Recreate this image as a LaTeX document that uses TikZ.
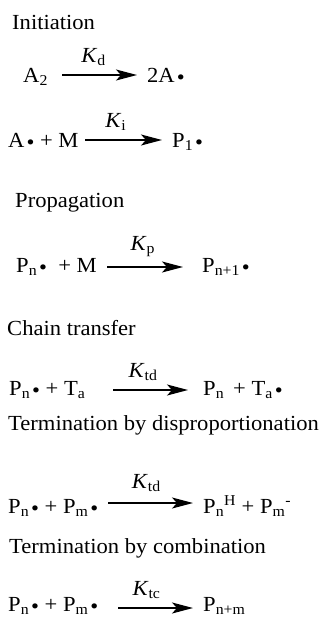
\documentclass[tikz,border=0pt]{standalone}
\usepackage{fontspec}
\setmainfont[FakeStretch=1.05]{Liberation Serif}
\usetikzlibrary{arrows.meta}
\usepackage{xcolor}

% radical dot
\newcommand{\rdot}{\kern2pt\raisebox{-0.13em}{•}}
\newcommand{\rk}[1]{\textit{K}\textsubscript{#1}}

\begin{document}
\begin{tikzpicture}[x=1pt, y=-1pt,
        txt/.style={anchor=base west, inner sep=0pt, font=\fontsize{21.5}{24}\selectfont},
        rxn/.style={-{Stealth[length=21pt, width=11pt, inset=5pt]}, line width=1.7pt},
        klab/.style={anchor=base, inner sep=0pt, yshift=13pt, font=\fontsize{21.5}{24}\selectfont}]
        \useasboundingbox (0,0) rectangle (320,619);

        % initiation
        \node (hinit) [txt] at (12,29) {Initiation};
        \node (a2) [txt] at (23,82) {A\textsubscript{2}};
        \node (twoa) [txt] at (147,82) {2A\rdot};
        \coordinate (s1) at (62,75);
        \coordinate (e1) at (137,75);
        \draw[rxn] (s1) -- node[klab, pos=.42] {\rk{d}} (e1);

        \node (am) [txt] at (8,147) {A\rdot\ + M};
        \node (p1) [txt] at (172,147) {P\textsubscript{1}\rdot};
        \coordinate (s2) at (85,140);
        \coordinate (e2) at (162,140);
        \draw[rxn] (s2) -- node[klab, pos=.4] {\rk{i}} (e2);

        % propagation
        \node (hprop) [txt] at (15,207) {Propagation};
        \node (pnm) [txt] at (16,272) {P\textsubscript{n}\rdot\ \ + M};
        \node (pn1) [txt] at (202,272) {P\textsubscript{n+1}\rdot};
        \coordinate (s3) at (107,267);
        \coordinate (e3) at (183,267);
        \draw[rxn] (s3) -- node[klab, pos=.47, yshift=4pt] {\rk{p}} (e3);

        % chain transfer
        \node (hchain) [txt] at (7,335) {Chain transfer};
        \node (pnta) [txt] at (9,395) {P\textsubscript{n}\rdot\ + T\textsubscript{a}};
        \node (pnout) [txt] at (203,395) {P\textsubscript{n}};
        \node (taout) [txt] at (233,395) {+ T\textsubscript{a}\rdot};
        \coordinate (s4) at (113,390);
        \coordinate (e4) at (188,390);
        \draw[rxn] (s4) -- node[klab, pos=.4] {\rk{td}} (e4);

        % disproportionation
        \node (hdisp) [txt] at (8,430) {Termination by disproportionation};
        \node (pnpm) [txt] at (8,513) {P\textsubscript{n}\rdot\ + P\textsubscript{m}\rdot};
        \node (pnh) [txt] at (203,513) {P\textsubscript{n}\textsuperscript{H} + P\textsubscript{m}\textsuperscript{-}};
        \coordinate (s5) at (108,503);
        \coordinate (e5) at (193,503);
        \draw[rxn] (s5) -- node[klab, pos=.45, yshift=2pt] {\rk{td}} (e5);

        % combination
        \node (hcomb) [txt] at (9,553) {Termination by combination};
        \node (pnpm2) [txt] at (8,611) {P\textsubscript{n}\rdot\ + P\textsubscript{m}\rdot};
        \node (pnm2) [txt] at (203,611) {P\textsubscript{n+m}};
        \coordinate (s6) at (118,608);
        \coordinate (e6) at (193,608);
        \draw[rxn] (s6) -- node[klab, pos=.38] {\rk{tc}} (e6);
\end{tikzpicture}
\end{document}
